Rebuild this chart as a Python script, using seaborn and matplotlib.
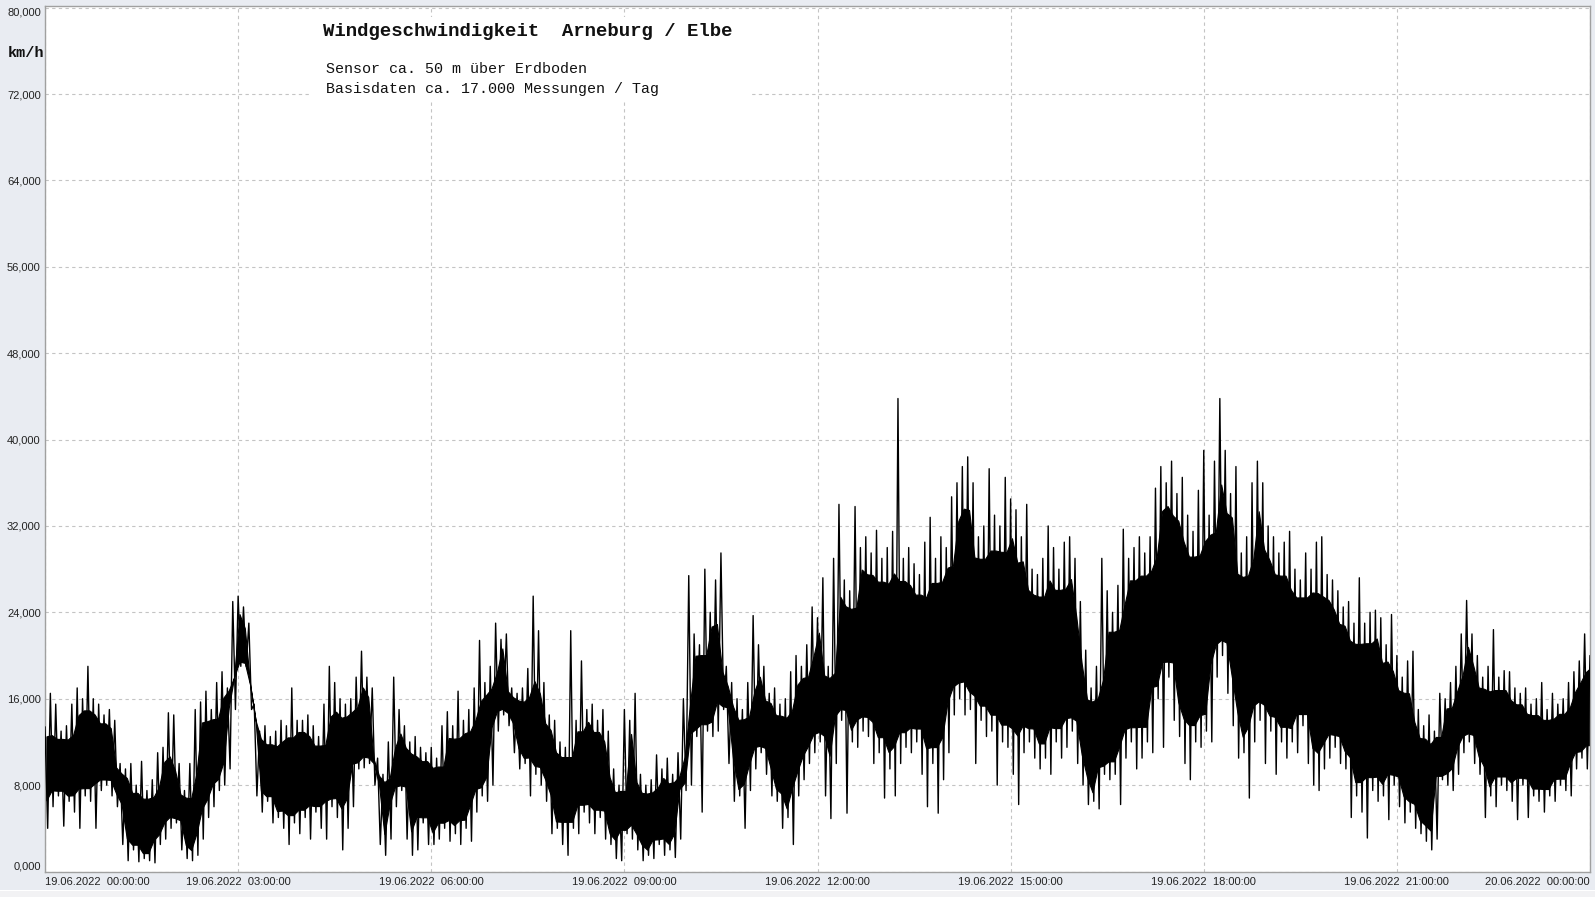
import numpy as np
import pandas as pd
import matplotlib
matplotlib.use("Agg")
import matplotlib.pyplot as plt
import seaborn as sns
from matplotlib.patches import Rectangle
from matplotlib.ticker import MultipleLocator

# ---- data: 5-minute windows, max (hi) and min (lo) wind speed in km/h ----
window_minutes = 5
hi = [
    13.4, 16.5, 15.5, 13.0, 13.5, 15.5, 17.0, 16.0, 19.0, 16.0, 15.5, 14.5,   # 00 h
    15.0, 14.0, 10.0, 9.5, 10.0, 8.0, 10.2, 7.5, 8.5, 11.0, 11.5, 14.7,       # 01 h
    14.5, 10.0, 7.5, 10.0, 15.0, 15.7, 16.7, 15.0, 17.5, 18.5, 17.0, 25.0,    # 02 h
    25.5, 24.5, 23.0, 15.5, 13.0, 13.5, 12.5, 13.0, 14.0, 13.5, 17.0, 14.0,   # 03 h
    14.0, 14.5, 13.5, 12.5, 15.5, 19.0, 17.5, 16.0, 15.5, 16.0, 18.0, 20.4,   # 04 h
    18.0, 17.0, 10.5, 9.0, 12.0, 18.0, 15.0, 13.5, 12.0, 12.5, 11.5, 11.0,    # 05 h
    11.5, 10.5, 13.5, 14.8, 13.5, 16.7, 14.0, 15.0, 17.0, 21.4, 17.5, 19.0,   # 06 h
    23.0, 21.5, 22.0, 17.0, 16.5, 17.0, 18.8, 25.5, 22.3, 17.5, 14.5, 14.0,   # 07 h
    12.0, 11.5, 22.3, 14.0, 19.5, 15.0, 15.5, 14.0, 15.0, 13.0, 9.5, 8.0,     # 08 h
    15.0, 14.0, 16.5, 9.0, 8.0, 8.5, 10.8, 9.5, 10.5, 9.0, 11.0, 16.0,        # 09 h
    27.4, 22.0, 21.0, 28.0, 24.0, 27.0, 29.5, 19.0, 17.5, 16.0, 15.0, 17.5,   # 10 h
    23.7, 21.0, 19.0, 16.5, 17.0, 15.5, 16.0, 18.5, 20.0, 19.0, 21.0, 24.5,   # 11 h
    23.5, 27.2, 19.0, 29.0, 34.0, 27.0, 26.0, 33.8, 30.0, 31.0, 29.5, 31.6,   # 12 h
    29.0, 30.0, 31.5, 43.8, 29.0, 30.0, 28.5, 27.5, 30.5, 32.8, 29.0, 31.0,   # 13 h
    30.0, 34.7, 36.0, 37.5, 38.4, 36.0, 31.0, 32.0, 37.3, 33.0, 32.0, 36.5,   # 14 h
    34.5, 33.5, 31.0, 34.0, 28.0, 27.5, 29.0, 32.0, 30.0, 28.0, 30.5, 31.0,   # 15 h
    29.0, 25.0, 20.5, 17.0, 19.0, 29.0, 26.0, 24.0, 26.5, 31.7, 29.0, 30.0,   # 16 h
    31.0, 29.5, 31.0, 35.5, 37.5, 36.0, 38.0, 35.0, 36.5, 33.0, 31.5, 35.3,   # 17 h
    39.0, 33.0, 38.0, 43.8, 39.0, 35.0, 37.5, 29.5, 31.0, 36.0, 38.0, 36.0,   # 18 h
    32.0, 31.0, 29.5, 30.5, 31.5, 28.0, 27.0, 29.5, 28.0, 30.5, 31.0, 27.5,   # 19 h
    27.0, 26.0, 24.5, 25.0, 23.0, 27.2, 23.0, 24.0, 24.2, 23.5, 21.0, 23.8,   # 20 h
    20.0, 18.0, 19.5, 20.4, 15.0, 13.5, 14.5, 13.0, 16.5, 16.0, 17.5, 19.0,   # 21 h
    22.0, 25.1, 22.0, 20.0, 18.0, 19.0, 22.4, 18.0, 18.6, 18.5, 17.0, 16.5,   # 22 h
    17.0, 15.5, 16.0, 17.5, 15.0, 16.5, 15.5, 16.0, 17.5, 18.5, 19.5, 22.0,   # 23 h
    20.0,
]
lo = [
    4.0, 6.0, 7.0, 4.2, 6.5, 5.5, 4.0, 7.0, 6.5, 4.0, 7.5, 8.0,               # 00 h
    7.0, 6.0, 2.5, 1.0, 2.0, 0.9, 1.2, 1.0, 0.8, 2.5, 3.0, 4.0,               # 01 h
    4.5, 2.0, 1.2, 1.0, 1.5, 3.0, 5.0, 6.0, 7.5, 8.0, 9.5, 15.0,              # 02 h
    19.0, 19.0, 15.0, 7.0, 5.5, 6.5, 4.5, 5.0, 4.0, 2.5, 4.5, 3.5,            # 03 h
    5.0, 3.0, 5.5, 4.0, 3.0, 6.0, 5.0, 2.0, 4.0, 6.0, 9.5, 9.6,               # 04 h
    10.0, 8.0, 2.5, 1.5, 3.0, 6.0, 7.5, 3.0, 1.5, 2.0, 4.5, 2.5,              # 05 h
    2.5, 3.0, 4.0, 2.8, 3.5, 2.5, 4.0, 2.8, 5.5, 7.0, 6.5, 8.0,               # 06 h
    13.0, 14.5, 13.5, 11.0, 9.5, 10.0, 7.0, 9.0, 8.0, 6.5, 3.5, 4.0,          # 07 h
    2.5, 1.5, 4.0, 3.5, 5.5, 4.5, 3.5, 5.0, 3.0, 2.5, 1.2, 1.0,               # 08 h
    3.5, 3.0, 2.0, 1.0, 1.5, 1.2, 2.5, 1.5, 2.0, 1.3, 3.0, 7.5,               # 09 h
    8.0, 12.5, 5.5, 13.0, 12.5, 13.0, 15.0, 10.0, 6.5, 7.0, 4.0, 7.5,         # 10 h
    9.5, 11.0, 9.0, 7.0, 6.5, 4.0, 5.0, 2.5, 7.0, 8.5, 10.0, 11.0,            # 11 h
    12.0, 7.0, 4.9, 10.0, 14.0, 5.4, 12.0, 11.5, 13.0, 12.5, 10.0, 11.0,      # 12 h
    6.8, 9.5, 7.0, 10.0, 11.5, 11.0, 12.0, 9.0, 6.0, 10.0, 5.4, 8.5,          # 13 h
    11.0, 14.5, 16.0, 14.5, 15.0, 10.0, 14.0, 12.5, 13.0, 8.0, 12.0, 11.5,    # 14 h
    9.0, 6.2, 11.0, 12.0, 10.5, 9.5, 10.5, 9.0, 12.0, 10.5, 11.5, 13.0,       # 15 h
    10.0, 8.0, 6.2, 6.5, 5.8, 9.0, 8.5, 9.0, 6.2, 10.5, 12.0, 9.5,            # 16 h
    10.5, 12.0, 11.0, 16.0, 11.5, 18.0, 14.0, 12.5, 10.0, 8.5, 12.0, 11.5,    # 17 h
    13.0, 12.0, 18.0, 20.0, 16.5, 13.5, 10.5, 11.0, 6.8, 12.0, 14.0, 10.0,    # 18 h
    13.0, 9.0, 12.0, 10.5, 12.0, 11.0, 13.5, 10.0, 8.0, 7.5, 9.5, 10.5,       # 19 h
    11.5, 10.0, 9.5, 5.0, 7.0, 5.5, 3.1, 7.5, 6.5, 7.0, 4.8, 8.0,             # 20 h
    6.0, 4.5, 5.5, 4.0, 3.5, 2.8, 2.0, 3.0, 8.5, 8.0, 7.5, 9.0,               # 21 h
    11.0, 12.0, 10.0, 9.0, 5.0, 7.0, 6.0, 8.0, 7.5, 6.5, 4.8, 8.0,            # 22 h
    5.0, 7.0, 6.5, 5.5, 7.0, 6.5, 8.0, 7.5, 7.0, 9.5, 10.5, 9.5,              # 23 h
    11.0,
]
x_tick_minutes = [0, 180, 360, 540, 720, 900, 1080, 1260, 1440]
x_tick_labels = ["19.06.2022  00:00:00", "19.06.2022  03:00:00", "19.06.2022  06:00:00",
                 "19.06.2022  09:00:00", "19.06.2022  12:00:00", "19.06.2022  15:00:00",
                 "19.06.2022  18:00:00", "19.06.2022  21:00:00", "20.06.2022  00:00:00"]
y_ticks = [0, 8, 16, 24, 32, 40, 48, 56, 64, 72, 80]
title = "Windgeschwindigkeit  Arneburg / Elbe"
subtitle_1 = "Sensor ca. 50 m über Erdboden"
subtitle_2 = "Basisdaten ca. 17.000 Messungen / Tag"
unit_label = "km/h"

# ---- zig-zag trace: window max then window min ----
t = np.arange(len(hi)) * window_minutes
xs = np.empty(2 * len(hi))
ys = np.empty(2 * len(hi))
xs[0::2] = t
xs[1::2] = t + window_minutes / 2
ys[0::2] = hi
ys[1::2] = lo
df = pd.DataFrame({"minute": xs, "kmh": ys})

# dense core of the trace, where neighbouring windows overlap
hi_s = pd.Series(hi, dtype=float)
lo_s = pd.Series(lo, dtype=float)
top3 = hi_s.rolling(3, center=True, min_periods=1).min().to_numpy()
bot3 = lo_s.rolling(3, center=True, min_periods=1).max().to_numpy()
mid = (top3 + bot3) / 2
span = np.clip(top3 - bot3, 0, None)
core_top = np.where(top3 > bot3, top3 - 0.12 * span, mid)
core_bot = np.where(top3 > bot3, bot3 + 0.08 * span, mid)

sns.set_theme(style="white")
plt.rcParams["font.family"] = ["Liberation Sans", "DejaVu Sans"]

W, H = 1595, 897
BG = "#E9ECF2"
fig = plt.figure(figsize=(W / 100, H / 100), dpi=100, facecolor=BG)
left, right, top, bottom = 45, 1590, 6, 871.5
ax = fig.add_axes([left / W, 1 - bottom / H, (right - left) / W, (bottom - top) / H])
ax.set_facecolor("white")
ax.set_axisbelow(True)

ax.fill_between(t + window_minutes / 4, core_bot, core_top,
                color="black", linewidth=0.8, zorder=2.5)
sns.lineplot(data=df, x="minute", y="kmh", sort=False, estimator=None,
             color="black", linewidth=1.0, ax=ax, zorder=3)

ax.set_xlim(0, 1440)
ax.set_ylim(0, 80.15)
ax.set_xlabel("")
ax.set_ylabel("")

ax.set_xticks(x_tick_minutes)
ax.set_xticklabels(x_tick_labels)
ax.set_yticks(y_ticks)
ax.set_yticklabels([f"{v:.3f}".replace(".", ",") for v in y_ticks])
ax.xaxis.set_minor_locator(MultipleLocator(45))
ax.yaxis.set_minor_locator(MultipleLocator(2))

ax.grid(True, which="major", color="#C4C4C4", linestyle=(0, (3, 3)), linewidth=0.8)
ax.tick_params(which="major", length=0, labelsize=8, labelcolor="#222222")
ax.tick_params(axis="x", which="major", pad=4)
ax.tick_params(axis="y", which="major", pad=3)
ax.tick_params(which="minor", direction="in", length=4, width=0.8, color="#B4B4B4")

xl = ax.get_xticklabels()
xl[0].set_ha("left")
xl[-1].set_ha("right")
yl = ax.get_yticklabels()
yl[0].set_va("bottom")
yl[-1].set_va("top")

for s in ax.spines.values():
    s.set_color("#A0A0A0")
    s.set_linewidth(1.0)

# white box behind header text (hides grid there)
ax.add_patch(Rectangle((310 / W, 1 - 100 / H), (749 - 310) / W, (100 - 17) / H,
                       transform=fig.transFigure, facecolor="white", edgecolor="none",
                       zorder=1, clip_on=False))

# bottom strip of window
fig.patches.append(Rectangle((0, 0), 1, 6 / H, transform=fig.transFigure,
                             facecolor="#F2F2F4", edgecolor="none", zorder=0))
fig.patches.append(Rectangle((0, 6 / H), 1, 1 / H, transform=fig.transFigure,
                             facecolor="#FFFFFF", edgecolor="none", zorder=0))

mono = ["Liberation Mono", "DejaVu Sans Mono"]
fig.text(323 / W, 1 - 32 / H, title, family=mono, fontsize=13.7, weight="bold",
         va="center", ha="left", color="#111111")
fig.text(326.5 / W, 1 - 69 / H, subtitle_1, family=mono, fontsize=10.8,
         va="center", ha="left", color="#111111")
fig.text(326.5 / W, 1 - 89 / H, subtitle_2, family=mono, fontsize=10.8,
         va="center", ha="left", color="#111111")
fig.text(8 / W, 1 - 53 / H, unit_label, family=mono, fontsize=11, weight="bold",
         va="center", ha="left", color="#111111")

fig.savefig("out.png", dpi=100, facecolor=BG)
